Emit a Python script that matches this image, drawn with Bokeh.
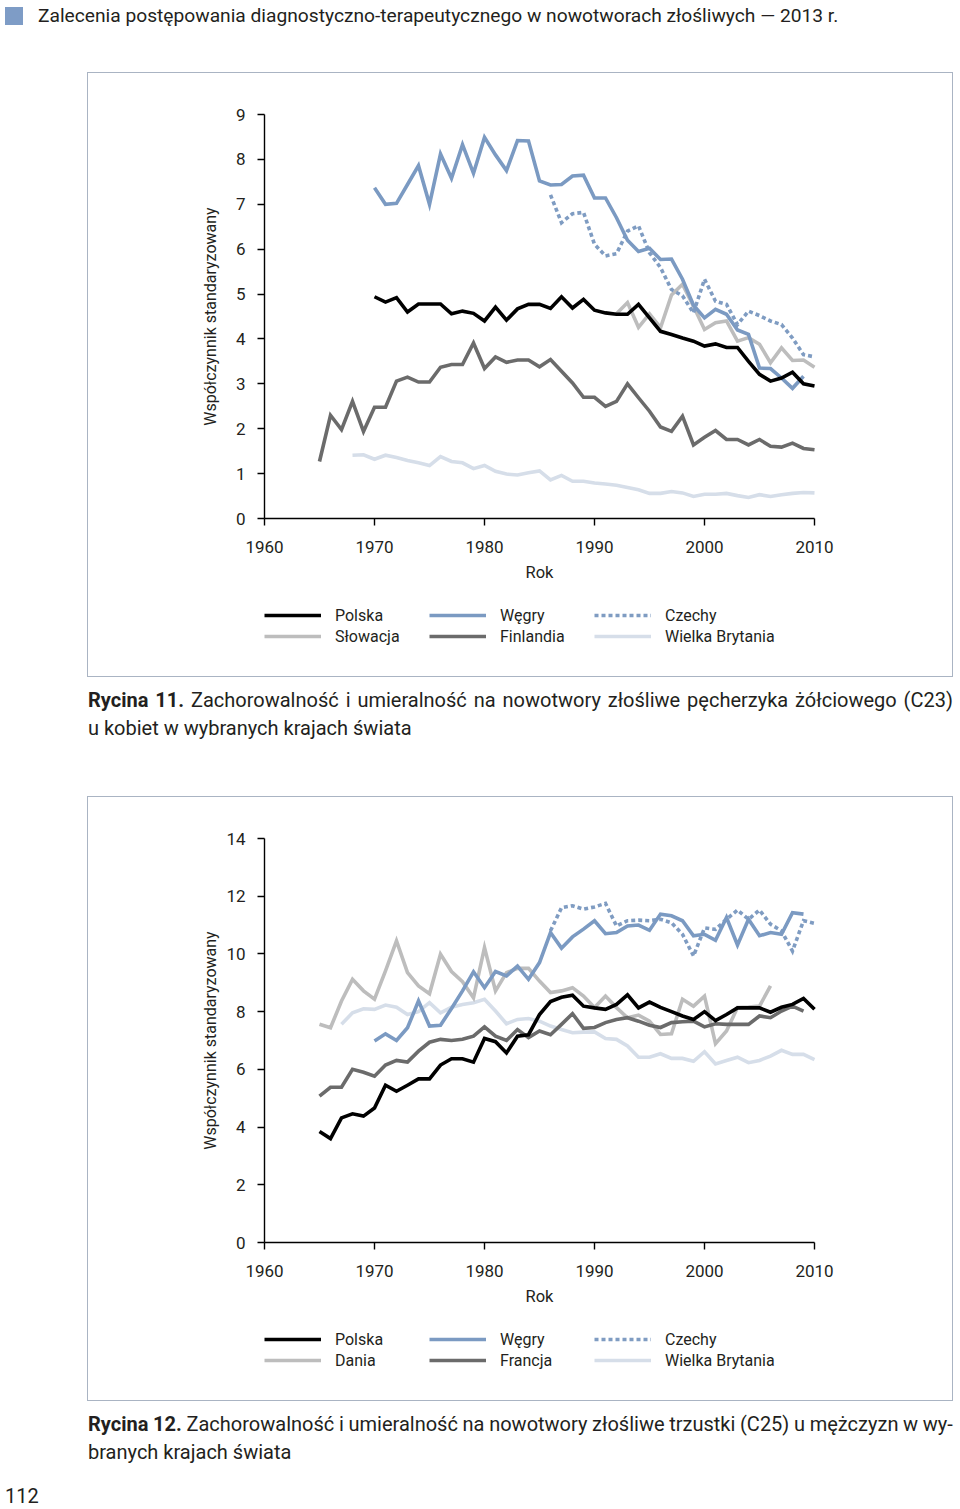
import math
from bokeh.plotting import figure
from bokeh.models import Range1d, FixedTicker, Legend, LegendItem, Div, Spacer, Label
from bokeh.layouts import column, row
from bokeh.embed import file_html
from bokeh.resources import INLINE

# ---------------- data: chart 1 (C23, kobiety) ----------------
c1_pl_years = list(range(1970, 2011))
c1_pl = [4.94, 4.82, 4.92, 4.60, 4.78, 4.78, 4.78, 4.56, 4.62, 4.57,
         4.40, 4.71, 4.42, 4.67, 4.77, 4.77, 4.68, 4.94, 4.69, 4.88,
         4.64, 4.58, 4.55, 4.55, 4.77, 4.47, 4.17, 4.10, 4.02, 3.95,
         3.84, 3.89, 3.81, 3.81, 3.50, 3.21, 3.06, 3.13, 3.26, 3.00, 2.95]
c1_hu_years = list(range(1970, 2010))
c1_hu = [7.37, 7.00, 7.02, 7.44, 7.86, 7.00, 8.12, 7.58, 8.33, 7.69,
         8.49, 8.10, 7.75, 8.42, 8.41, 7.52, 7.43, 7.44, 7.63, 7.65,
         7.14, 7.14, 6.70, 6.20, 5.95, 6.02, 5.77, 5.78, 5.33, 4.75,
         4.47, 4.66, 4.55, 4.20, 4.10, 3.35, 3.34, 3.13, 2.90, 3.17]
c1_cz_years = list(range(1986, 2011))
c1_cz = [7.21, 6.59, 6.79, 6.82, 6.11, 5.85, 5.90, 6.40, 6.52, 5.92,
         5.59, 5.10, 4.96, 4.58, 5.33, 4.84, 4.77, 4.32, 4.62, 4.52,
         4.40, 4.32, 4.02, 3.65, 3.60]
c1_sk_years = list(range(1992, 2011))
c1_sk = [4.56, 4.81, 4.26, 4.56, 4.25, 4.98, 5.22, 4.73, 4.21, 4.36,
         4.40, 3.95, 4.03, 3.88, 3.47, 3.80, 3.52, 3.53, 3.37]
c1_fi_years = list(range(1965, 2011))
c1_fi = [1.27, 2.30, 1.98, 2.61, 1.94,
         2.48, 2.48, 3.06, 3.15, 3.04, 3.04, 3.37, 3.43, 3.43, 3.91,
         3.34, 3.60, 3.48, 3.53, 3.53, 3.38, 3.54, 3.28, 3.02, 2.70,
         2.70, 2.50, 2.61, 3.00, 2.69, 2.39, 2.04, 1.94, 2.28, 1.64,
         1.81, 1.96, 1.76, 1.76, 1.64, 1.76, 1.61, 1.59, 1.68, 1.56, 1.53]
c1_gb_years = list(range(1968, 2011))
c1_gb = [1.41, 1.42,
         1.32, 1.41, 1.36, 1.29, 1.24, 1.18, 1.38, 1.27, 1.24, 1.11,
         1.18, 1.05, 0.99, 0.97, 1.02, 1.06, 0.86, 0.96, 0.83, 0.83,
         0.79, 0.77, 0.74, 0.69, 0.64, 0.56, 0.56, 0.60, 0.57, 0.49,
         0.54, 0.54, 0.56, 0.51, 0.47, 0.53, 0.49, 0.53, 0.56, 0.58, 0.57]

# ---------------- data: chart 2 (C25, mezczyzni) ----------------
c2_pl_years = list(range(1965, 2011))
c2_pl = [3.85, 3.60, 4.32, 4.46, 4.38,
         4.66, 5.45, 5.24, 5.45, 5.67, 5.67, 6.15, 6.37, 6.37, 6.25,
         7.07, 6.96, 6.57, 7.15, 7.20, 7.90, 8.35, 8.50, 8.57, 8.19,
         8.13, 8.08, 8.25, 8.58, 8.13, 8.33, 8.15, 8.00, 7.85, 7.73,
         8.00, 7.69, 7.90, 8.13, 8.13, 8.13, 7.98, 8.15, 8.25, 8.46, 8.08]
c2_hu_years = list(range(1970, 2010))
c2_hu = [6.98, 7.23, 7.00, 7.44, 8.37, 7.50, 7.53, 8.11, 8.72, 9.38,
         8.83, 9.39, 9.24, 9.58, 9.12, 9.70, 10.74, 10.20, 10.59, 10.86,
         11.15, 10.70, 10.74, 10.97, 11.00, 10.82, 11.38, 11.32, 11.15, 10.63,
         10.68, 10.47, 11.26, 10.31, 11.20, 10.63, 10.74, 10.68, 11.43, 11.38]
c2_cz_years = list(range(1986, 2011))
c2_cz = [10.80, 11.60, 11.67, 11.55, 11.63, 11.75, 10.97, 11.15, 11.17, 11.15,
         11.20, 11.08, 10.68, 9.93, 10.90, 10.85, 11.20, 11.52, 11.20, 11.52,
         11.03, 10.80, 10.10, 11.15, 11.06]
c2_dk_years = list(range(1965, 2007))
c2_dk = [7.56, 7.44, 8.37, 9.12, 8.72,
         8.43, 9.41, 10.45, 9.35, 8.89, 8.62, 9.99, 9.39, 9.04, 8.48,
         10.22, 8.72, 9.35, 9.50, 9.50, 9.06, 8.66, 8.72, 8.83, 8.54,
         8.14, 8.54, 8.14, 7.79, 7.88, 7.67, 7.21, 7.23, 8.43, 8.19,
         8.54, 6.89, 7.33, 8.14, 8.16, 8.19, 8.89]
c2_fr_years = list(range(1965, 2010))
c2_fr = [5.07, 5.38, 5.38, 6.00, 5.90,
         5.76, 6.15, 6.31, 6.25, 6.63, 6.94, 7.04, 7.00, 7.04, 7.15,
         7.47, 7.15, 7.00, 7.38, 7.10, 7.33, 7.20, 7.56, 7.93, 7.42,
         7.45, 7.62, 7.73, 7.79, 7.67, 7.53, 7.45, 7.62, 7.65, 7.67,
         7.47, 7.58, 7.56, 7.56, 7.56, 7.85, 7.79, 8.02, 8.19, 8.02]
c2_gb_years = list(range(1967, 2011))
c2_gb = [7.56, 7.96, 8.10,
         8.08, 8.23, 8.15, 7.90, 8.00, 8.31, 7.96, 8.15, 8.25, 8.31,
         8.43, 8.02, 7.58, 7.73, 7.76, 7.67, 7.50, 7.38, 7.27, 7.29,
         7.30, 7.07, 7.04, 6.81, 6.42, 6.42, 6.54, 6.38, 6.38, 6.28,
         6.61, 6.19, 6.31, 6.42, 6.23, 6.31, 6.46, 6.66, 6.52, 6.52, 6.34]

x_ticks = [1960, 1970, 1980, 1990, 2000, 2010]
c1_y_ticks = [0, 1, 2, 3, 4, 5, 6, 7, 8, 9]
c2_y_ticks = [0, 2, 4, 6, 8, 10, 12, 14]

c1_names = ["Polska", "Węgry", "Czechy", "Słowacja", "Finlandia", "Wielka Brytania"]
c2_names = ["Polska", "Węgry", "Czechy", "Dania", "Francja", "Wielka Brytania"]
x_label = "Rok"
y_label = "Współczynnik standaryzowany"

header_text = "Zalecenia postępowania diagnostyczno-terapeutycznego w nowotworach złośliwych — 2013 r."
cap1_line1 = "Rycina 11. Zachorowalność i umieralność na nowotwory złośliwe pęcherzyka żółciowego (C23)"
cap1_line2 = "u kobiet w wybranych krajach świata"
cap2_line1 = "Rycina 12. Zachorowalność i umieralność na nowotwory złośliwe trzustki (C25) u mężczyzn w wy-"
cap2_line2 = "branych krajach świata"
page_no = "112"

# ---------------- styles / layout constants ----------------
CF = "Roboto"
TF = "Roboto"
TXT = "#231f20"
BLUE = "#7b9ac2"
DOT = "#7f9cc2"
LGRAY = "#bdbdbd"
DGRAY = "#6b6b6b"
PALE = "#d6dee9"
LW = 3.6

W, H = 866, 605                       # figure canvas (drawn from inside the border)
FL, FR, FT, FB = 176, 726, 41, 445    # data area (axes box) in canvas px

styles = [
    dict(color="black", dash="solid"),
    dict(color=BLUE, dash="solid"),
    dict(color=DOT, dash="4 3"),
    dict(color=LGRAY, dash="solid"),
    dict(color=DGRAY, dash="solid"),
    dict(color=PALE, dash="solid"),
]


def make_chart(series, names, ymax, yticks):
    xppu = (FR - FL) / 50.0
    yppu = (FB - FT) / float(ymax)
    xr = Range1d(1960 - FL / xppu, 2010 + (W - FR) / xppu)
    yr = Range1d(0 - (H - FB) / yppu, ymax + FT / yppu)
    p = figure(width=W, height=H, output_backend="svg", toolbar_location=None,
               x_range=xr, y_range=yr,
               min_border_left=0, min_border_right=0,
               min_border_top=0, min_border_bottom=0,
               styles={"border": "1px solid #aab4c3"})
    p.grid.visible = False
    p.outline_line_color = None
    p.background_fill_color = "white"
    p.border_fill_color = "white"

    order = [5, 3, 4, 2, 1, 0]
    rmap = {}
    for i in order:
        xs, ys = series[i]
        st = styles[i]
        rmap[i] = p.line(xs, ys, line_color=st["color"], line_width=LW,
                         line_dash=st["dash"], line_join="miter", line_cap="butt")
    for ax in (p.xaxis[0], p.yaxis[0]):
        ax.axis_line_color = "black"
        ax.axis_line_width = 1.4
        ax.major_tick_line_color = "black"
        ax.major_tick_line_width = 1.4
        ax.major_tick_out = 7
        ax.major_tick_in = 0
        ax.minor_tick_line_color = None
        ax.major_label_text_font = CF
        ax.major_label_text_font_size = "17px"
        ax.major_label_text_color = TXT
    p.xaxis[0].ticker = FixedTicker(ticks=x_ticks)
    p.yaxis[0].ticker = FixedTicker(ticks=yticks)
    p.xaxis[0].bounds = (1960, 2010)
    p.yaxis[0].bounds = (0, ymax)
    p.xaxis[0].fixed_location = 0
    p.yaxis[0].fixed_location = 1960
    p.xaxis[0].major_label_standoff = 15
    p.yaxis[0].major_label_standoff = 12

    p.add_layout(Label(x=1985, y=H - 499, y_units="screen", text=x_label,
                       text_font=CF, text_font_size="16.5px", text_color=TXT,
                       text_align="center", text_baseline="middle"))
    p.add_layout(Label(x=122, y=H - 243, x_units="screen", y_units="screen",
                       text=y_label, angle=math.pi / 2,
                       text_font=CF, text_font_size="16px", text_color=TXT,
                       text_align="center", text_baseline="middle"))

    cols = [(0, 3), (1, 4), (2, 5)]
    xs_leg = [176, 341, 506]
    for (a, b), lx in zip(cols, xs_leg):
        lg = Legend(items=[LegendItem(label=names[a], renderers=[rmap[a]]),
                           LegendItem(label=names[b], renderers=[rmap[b]])],
                    location=(lx, H - 573), orientation="vertical",
                    glyph_width=57, glyph_height=20, label_height=20,
                    label_standoff=14, spacing=1, padding=0, margin=0,
                    border_line_color=None, background_fill_alpha=0,
                    label_text_font=CF, label_text_font_size="16px",
                    label_text_color=TXT)
        p.add_layout(lg, "center")
    return p


series1 = [(c1_pl_years, c1_pl), (c1_hu_years, c1_hu), (c1_cz_years, c1_cz),
           (c1_sk_years, c1_sk), (c1_fi_years, c1_fi), (c1_gb_years, c1_gb)]
series2 = [(c2_pl_years, c2_pl), (c2_hu_years, c2_hu), (c2_cz_years, c2_cz),
           (c2_dk_years, c2_dk), (c2_fr_years, c2_fr), (c2_gb_years, c2_gb)]

p1 = make_chart(series1, c1_names, 9, c1_y_ticks)
p2 = make_chart(series2, c2_names, 14, c2_y_ticks)


def just_line(text):
    spans = []
    for w in text.split(" "):
        if w in ("Rycina", "11.", "12."):
            spans.append('<span style="font-weight:700">%s</span>' % w)
        else:
            spans.append('<span>%s</span>' % w)
    return ('<div style="display:flex;justify-content:space-between;white-space:nowrap;width:865px">'
            + "".join(spans) + '</div>')


def caption(l1, l2, extra=""):
    return ('<div style="margin-left:88px;padding-top:9px;font-family:%s;font-size:20px;'
            'line-height:28px;color:%s">%s<div style="white-space:nowrap">%s</div></div>%s'
            % (TF, TXT, just_line(l1), l2, extra))


header = Div(text=('<div style="position:relative;left:5px;top:2px;display:flex;align-items:center;'
                   'font-family:%s;font-size:19.2px;color:%s;white-space:nowrap">'
                   '<span style="display:inline-block;width:18px;height:18px;background:#7e9cc6;'
                   'margin-right:15px"></span><span>%s</span></div>') % (TF, TXT, header_text),
             width=960, height=72, margin=0)

cap1 = Div(text=caption(cap1_line1, cap1_line2), width=960, height=119, margin=0)
pnum = ('<div style="position:relative;left:5px;margin-top:19px;font-family:%s;font-size:20px;'
        'line-height:22px;color:%s">%s</div>' % (TF, TXT, page_no))
cap2 = Div(text=caption(cap2_line1, cap2_line2, pnum), width=960, height=107, margin=0)

layout = column(header,
                row(Spacer(width=87, height=605, margin=0), p1),
                cap1,
                row(Spacer(width=87, height=605, margin=0), p2),
                cap2)

open("out.html", "w").write(file_html(layout, INLINE))
